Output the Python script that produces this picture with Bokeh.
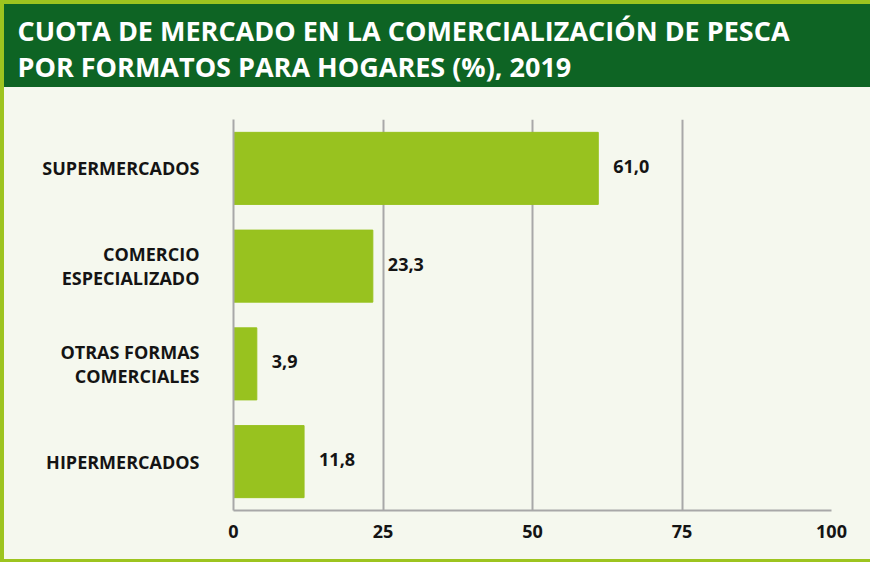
from bokeh.plotting import figure
from bokeh.models import FactorRange, Range1d, FixedTicker, Title
from bokeh.core.properties import value
from bokeh.embed import file_html
from bokeh.resources import INLINE

# ---- data ----
title_line1 = "CUOTA DE MERCADO EN LA COMERCIALIZACIÓN DE PESCA"
title_line2 = "POR FORMATOS PARA HOGARES (%), 2019"
categories = ["SUPERMERCADOS", "COMERCIO\nESPECIALIZADO",
              "OTRAS FORMAS\nCOMERCIALES", "HIPERMERCADOS"]
shares = [61.0, 23.3, 3.9, 11.8]
share_labels = ["61,0", "23,3", "3,9", "11,8"]
x_ticks = [0, 25, 50, 75, 100]

# ---- styles ----
FONT = "Open Sans"
LIME = "#9dc41f"
DARK = "#0e6424"
BAR = "#98c21f"
BG = "#f5f8ee"
GRID = "#a8a8a8"
INK = "#141414"

W, H = 870, 562
BL, BR, BT, BB = 233, 39, 119, 52

bg_css = (f"linear-gradient(to right, {LIME} 0px, {LIME} 4px, transparent 4px), "
          f"linear-gradient(to bottom, {LIME} 0px, {LIME} 4px, {DARK} 4px, {DARK} 87px, "
          f"{BG} 87px, {BG} 559px, {LIME} 559px)")

p = figure(width=W, height=H, y_range=FactorRange(factors=categories[::-1]),
           x_range=Range1d(0, 100), output_backend="svg", toolbar_location=None,
           title_location=None,
           min_border_left=BL, min_border_right=BR, min_border_top=BT,
           min_border_bottom=BB, styles={"background-image": bg_css})
p.background_fill_color = BG
p.border_fill_color = None
p.outline_line_color = None

p.hbar(y=categories, right=shares, left=0, height=0.737, color=BAR)
p.text(x=shares, y=categories, text=share_labels, x_offset=15, y_offset=-2,
       text_font=value(FONT), text_font_style="bold", text_font_size="18px",
       text_color=INK, text_baseline="middle", text_align="left")

p.xgrid.ticker = FixedTicker(ticks=x_ticks)
p.xgrid.grid_line_color = GRID
p.xgrid.grid_line_width = 2
p.ygrid.grid_line_color = None

p.xaxis.ticker = FixedTicker(ticks=x_ticks)
p.xaxis.axis_line_color = GRID
p.xaxis.axis_line_width = 2
p.xaxis.major_tick_line_color = None
p.xaxis.minor_tick_line_color = None
p.xaxis.major_label_standoff = 8
p.xaxis.major_label_text_font = FONT
p.xaxis.major_label_text_font_style = "bold"
p.xaxis.major_label_text_font_size = "18px"
p.xaxis.major_label_text_color = INK

p.yaxis.axis_line_color = GRID
p.yaxis.axis_line_width = 2
p.yaxis.major_tick_line_color = None
p.yaxis.minor_tick_line_color = None
p.yaxis.major_label_standoff = 28
p.yaxis.major_label_text_font = FONT
p.yaxis.major_label_text_font_style = "bold"
p.yaxis.major_label_text_font_size = "18px"
p.yaxis.major_label_text_color = INK
p.yaxis.major_label_text_line_height = 1.02

# spacer between the frame and the heading, then the two-line heading
p.add_layout(Title(text=" ", text_font_size="1px", standoff=30), "above")
p.add_layout(Title(text=title_line1 + "\n" + title_line2, align="left", offset=17 - BL,
                   vertical_align="top", standoff=0,
                   text_font=FONT, text_font_style="bold", text_font_size="27px",
                   text_color="white", text_line_height=0.98), "above")

open("out.html", "w").write(file_html(p, INLINE))
